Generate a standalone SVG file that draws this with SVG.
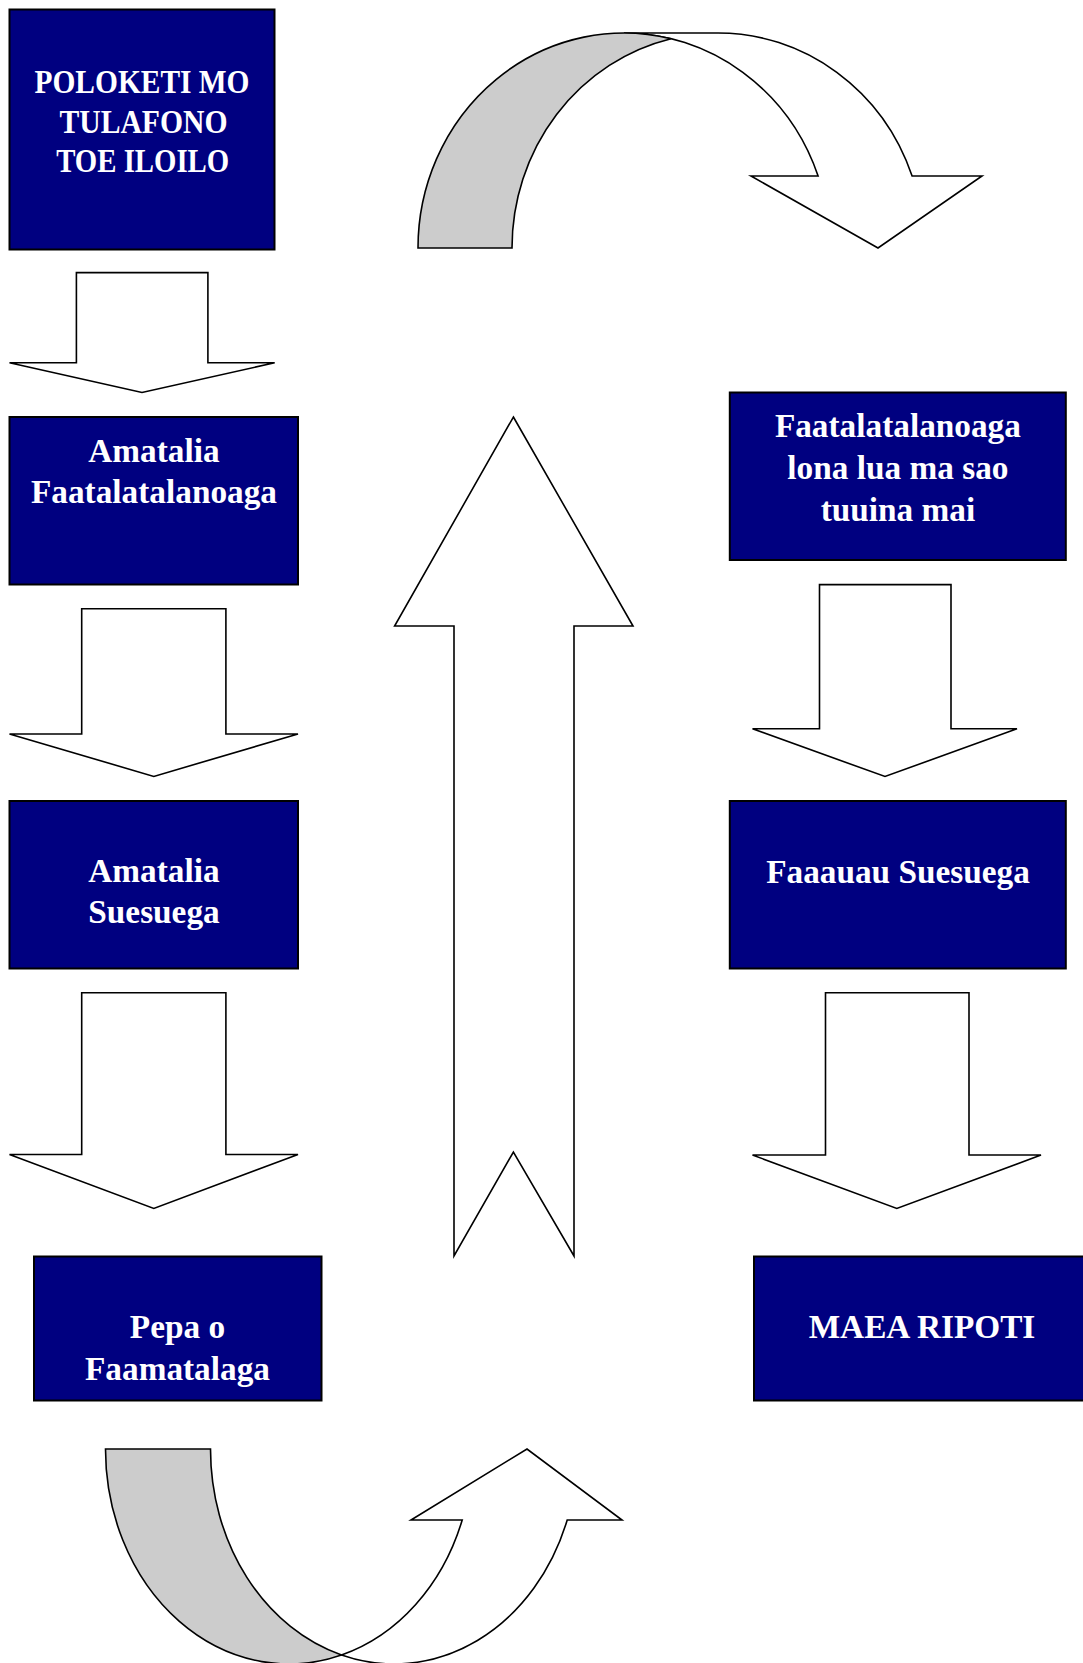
<svg xmlns="http://www.w3.org/2000/svg" width="1083" height="1663" viewBox="0 0 1083 1663">
<style>
.box{fill:#000080;stroke:#000;stroke-width:2}
.lbl{fill:#fff;font-family:"Liberation Serif","Times New Roman",serif;font-weight:bold;font-size:33.3px;text-anchor:middle}
.arr{fill:#fff;stroke:#000;stroke-width:1.6;stroke-linejoin:miter}
.back{fill:#cccccc;stroke:#000;stroke-width:1.6}
</style>
<rect width="1083" height="1663" fill="#fff"/>
<g id="connectors">
<path class="arr" d="M76.4,272.6 H207.9 V362.8 H274.7 L142,392.5 L9.5,362.8 H76.4 Z"/>
<path class="arr" d="M81.7,608.8 H225.9 V734 H298 L153.8,776.4 L9.5,734 H81.7 Z"/>
<path class="arr" d="M81.7,992.8 H225.9 V1154.5 H298 L153.8,1208.5 L9.5,1154.5 H81.7 Z"/>
<path class="arr" d="M819.5,584.6 H951 V728.8 H1017 L885,776.5 L752.5,728.8 H819.5 Z"/>
<path class="arr" d="M825.5,992.8 H969 V1155 H1041 L896.8,1208.5 L752.5,1155 H825.5 Z"/>
<path class="arr" d="M513.4,417 L633,626 L574,626 L574,1256 L513.4,1152 L454,1256 L454,626 L394.6,626 Z"/>
<g id="curve-top">
<path class="arr" d="M624,33 L718,33 A206,215 0 0 1 912.1,176 L982,176 L878,248 L751,176 L818.1,176 A206,215 0 0 0 624,33 Z"/>
<path class="back" d="M418,248 A206,215 0 0 1 671,38.7 A206,215 0 0 0 512,248 Z"/>
</g>
<g id="curve-bottom">
<path class="back" d="M105.5,1449 L210.5,1449 A183.5,215 0 0 0 341.5,1655 A183.5,215 0 0 1 105.5,1449 Z"/>
<path class="arr" d="M341.5,1655 A183.5,215 0 0 0 462.2,1520 L411,1520 L527,1449 L622,1520 L567.2,1520 A183.5,215 0 0 1 341.5,1655 Z"/>
</g>
</g>
<g id="node-poloketi">
<rect class="box" x="9.5" y="9.5" width="265" height="240"/>
<text class="lbl" x="142" y="93.3" textLength="215" lengthAdjust="spacingAndGlyphs">POLOKETI MO</text>
<text class="lbl" x="143.5" y="132.8" textLength="168" lengthAdjust="spacingAndGlyphs">TULAFONO</text>
<text class="lbl" x="142.7" y="171.7" textLength="173" lengthAdjust="spacingAndGlyphs">TOE ILOILO</text>
</g>
<g id="node-amatalia-faatalatalanoaga">
<rect class="box" x="9.5" y="417" width="288.5" height="167.5"/>
<text class="lbl" x="154" y="461.7">Amatalia</text>
<text class="lbl" x="154" y="502.7">Faatalatalanoaga</text>
</g>
<g id="node-amatalia-suesuega">
<rect class="box" x="9.5" y="801" width="288.5" height="167.5"/>
<text class="lbl" x="154" y="881.7">Amatalia</text>
<text class="lbl" x="154" y="923.3">Suesuega</text>
</g>
<g id="node-pepa">
<rect class="box" x="34" y="1256.5" width="287.5" height="144"/>
<text class="lbl" x="177.5" y="1337.5">Pepa o</text>
<text class="lbl" x="177.5" y="1379.5">Faamatalaga</text>
</g>
<g id="node-faatalatalanoaga-lona-lua">
<rect class="box" x="729.8" y="392.5" width="336" height="167.5"/>
<text class="lbl" x="897.9" y="437">Faatalatalanoaga</text>
<text class="lbl" x="897.9" y="479">lona lua ma sao</text>
<text class="lbl" x="897.9" y="521">tuuina mai</text>
</g>
<g id="node-faaauau-suesuega">
<rect class="box" x="729.8" y="801" width="336" height="167.5"/>
<text class="lbl" x="898" y="882.7">Faaauau Suesuega</text>
</g>
<g id="node-maea-ripoti">
<rect class="box" x="754" y="1256.5" width="340" height="144"/>
<text class="lbl" x="922" y="1337.6">MAEA RIPOTI</text>
</g>
</svg>
